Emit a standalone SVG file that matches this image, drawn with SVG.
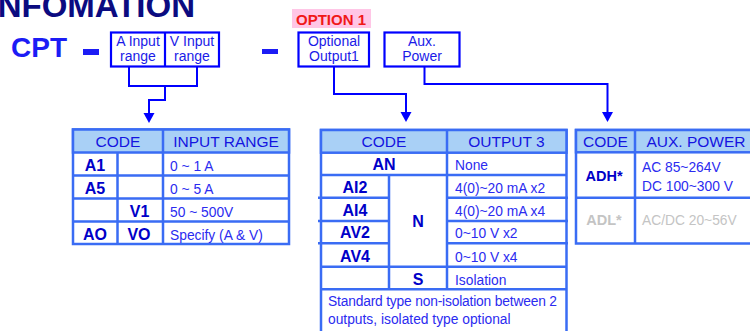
<svg xmlns="http://www.w3.org/2000/svg" width="750" height="331" viewBox="0 0 750 331">
<style>
.title{font-family:"Liberation Sans",Arial,sans-serif;font-weight:bold;font-size:33px;fill:#0b0b80}
.cpt{font-family:"Liberation Sans",Arial,sans-serif;font-weight:bold;font-size:28px;fill:#1c1cf5}
.box{fill:#fff;stroke:#0000ff;stroke-width:2.2}
.bt{font-family:"Liberation Sans",Arial,sans-serif;font-size:14px;fill:#1a1ae8;text-anchor:middle}
.opt{font-family:"Liberation Sans",Arial,sans-serif;font-weight:bold;font-size:15px;fill:#f01818}
.conn{fill:none;stroke:#0000ff;stroke-width:2}
.tb{fill:#fff;stroke:#3a6cf4;stroke-width:2.5}
.hd{fill:#a9d0f6;stroke:#3a6cf4;stroke-width:2.5}
.ln{stroke:#3a6cf4;stroke-width:2.5;fill:none}
.ht{font-family:"Liberation Sans",Arial,sans-serif;font-size:15.5px;fill:#1414e0;text-anchor:middle}
.cd{font-family:"Liberation Sans",Arial,sans-serif;font-weight:bold;font-size:16px;fill:#0000c8;text-anchor:middle}
.dt{font-family:"Liberation Sans",Arial,sans-serif;font-size:13.8px;fill:#2b2bf0}
.gr{fill:#c4c4c4}
</style>
<defs>
<marker id="arr" markerUnits="userSpaceOnUse" markerWidth="11" markerHeight="12" refX="0" refY="5.5" orient="auto">
<path d="M0,0 L10,5.5 L0,11 z" fill="#0000ff"/>
</marker>
</defs>

<g id="title"><text class="title" x="-11.5" y="17">INFOMATION</text></g>

<g id="cpt"><text class="cpt" x="11" y="57">CPT</text></g>
<g id="dash1"><rect x="83" y="49" width="16" height="6" fill="#1c1cf5"/></g>

<g id="box-input">
<rect class="box" x="111" y="32.5" width="108" height="34"/>
<line x1="165" y1="32.5" x2="165" y2="66.5" stroke="#0000ff" stroke-width="2.2"/>
<text class="bt" x="138" y="46">A Input</text>
<text class="bt" x="138" y="61">range</text>
<text class="bt" x="192" y="46">V Input</text>
<text class="bt" x="192" y="61">range</text>
</g>

<g id="dash2"><rect x="262" y="49" width="16" height="5" fill="#1c1cf5"/></g>

<g id="option1">
<rect x="292" y="9" width="79" height="19" fill="#ffc6e6"/>
<text class="opt" x="296" y="25">OPTION 1</text>
</g>

<g id="box-optional">
<rect class="box" x="298.5" y="32.5" width="70.5" height="34"/>
<text class="bt" x="334" y="46">Optional</text>
<text class="bt" x="334" y="61">Output1</text>
</g>

<g id="box-aux">
<rect class="box" x="384.5" y="32.5" width="75" height="34"/>
<text class="bt" x="422" y="46">Aux.</text>
<text class="bt" x="422" y="61">Power</text>
</g>

<g id="connectors">
<path class="conn" d="M129,67 V86 H197 V67"/>
<path class="conn" d="M165,86 V100 H149 V113" marker-end="url(#arr)"/>
<path class="conn" d="M334,67 V94 H406 V112" marker-end="url(#arr)"/>
<path class="conn" d="M424.5,67 V84 H607.5 V112" marker-end="url(#arr)"/>
</g>

<g id="table-input">
<rect class="tb" x="73" y="129.5" width="216" height="114.5"/>
<rect class="hd" x="73" y="129.5" width="216" height="23"/>
<path class="ln" d="M73,175.5 H289 M73,198.5 H289 M73,221.5 H289 M117.5,152.5 V244 M163,129.5 V244"/>
<text class="ht" x="118" y="146.5">CODE</text>
<text class="ht" x="226" y="146.5">INPUT RANGE</text>
<text class="cd" x="95" y="170.5">A1</text>
<text class="cd" x="95" y="193.5">A5</text>
<text class="cd" x="139.5" y="216.5">V1</text>
<text class="cd" x="95" y="239.5">AO</text>
<text class="cd" x="139" y="239.5">VO</text>
<text class="dt" x="170" y="170.5">0 ~ 1 A</text>
<text class="dt" x="170" y="193.5">0 ~ 5 A</text>
<text class="dt" x="170" y="216.5">50 ~ 500V</text>
<text class="dt" x="170" y="239.5">Specify (A &amp; V)</text>
</g>

<g id="table-output">
<rect class="tb" x="321" y="130" width="245.5" height="205"/>
<rect class="hd" x="321" y="130" width="245.5" height="22.7"/>
<path class="ln" d="M321,175 H566.5 M318,197.7 H389 M447,197.7 H568 M318,221 H389 M447,221 H568 M318,243.3 H389 M447,243.3 H568 M321,266.7 H566.5 M321,289.3 H566.5 M389,175 V289.3 M447,130 V289.3"/>
<text class="ht" x="384" y="147">CODE</text>
<text class="ht" x="506.5" y="147">OUTPUT 3</text>
<text class="cd" x="384" y="170">AN</text>
<text class="cd" x="355" y="192.5">AI2</text>
<text class="cd" x="355" y="215.5">AI4</text>
<text class="cd" x="355" y="238">AV2</text>
<text class="cd" x="355" y="261.5">AV4</text>
<text class="cd" x="418" y="227">N</text>
<text class="cd" x="418" y="284.5">S</text>
<text class="dt" x="455" y="170">None</text>
<text class="dt" x="455" y="192.5">4(0)~20 mA x2</text>
<text class="dt" x="455" y="215.5">4(0)~20 mA x4</text>
<text class="dt" x="455" y="238">0~10 V x2</text>
<text class="dt" x="455" y="261.5">0~10 V x4</text>
<text class="dt" x="455" y="284.5">Isolation</text>
<text class="dt" x="328" y="306" textLength="229">Standard type non-isolation between 2</text>
<text class="dt" x="328" y="323.5">outputs, isolated type optional</text>
</g>

<g id="table-aux">
<rect class="tb" x="576" y="130" width="181" height="113.5"/>
<rect class="hd" x="576" y="130" width="181" height="22.3"/>
<path class="ln" d="M576,197.7 H757 M635,130 V243.5"/>
<text class="ht" x="605.5" y="147">CODE</text>
<text class="ht" x="696" y="147">AUX. POWER</text>
<text class="cd" x="604" y="180.5" style="font-size:14.5px">ADH*</text>
<text class="dt" x="642" y="171.5">AC 85~264V</text>
<text class="dt" x="642" y="190.5">DC 100~300 V</text>
<text class="cd gr" x="604" y="225" style="font-size:14.5px">ADL*</text>
<text class="dt gr" x="642" y="225">AC/DC 20~56V</text>
</g>
</svg>
